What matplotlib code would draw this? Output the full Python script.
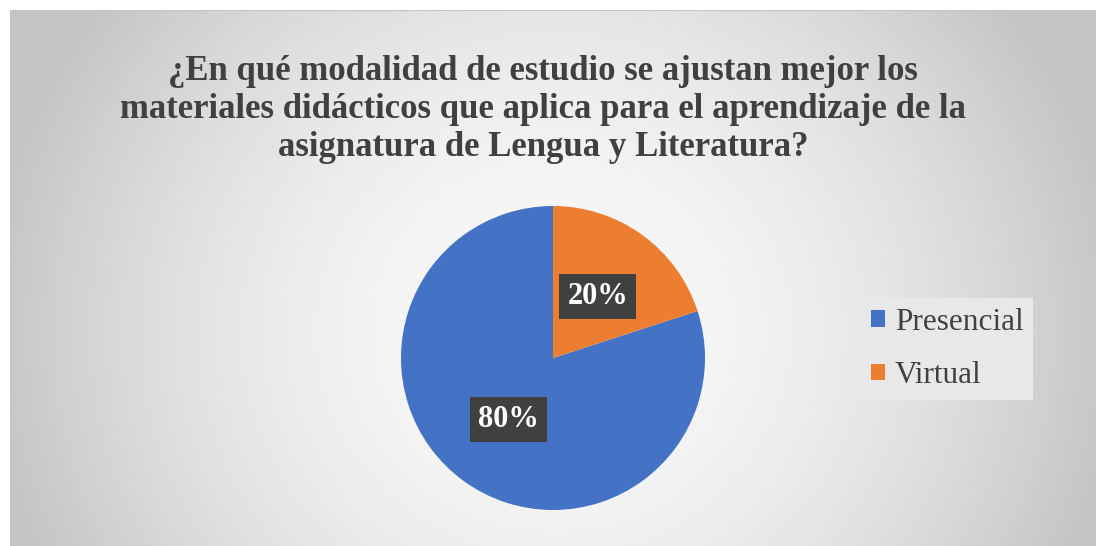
import numpy as np
import matplotlib
matplotlib.use("Agg")
import matplotlib.pyplot as plt
from matplotlib.lines import Line2D

categories = ["Presencial", "Virtual"]
values = [80, 20]
colors = ["#4472C4", "#ED7D31"]
title = ("¿En qué modalidad de estudio se ajustan mejor los\n"
         "materiales didácticos que aplica para el aprendizaje de la\n"
         "asignatura de Lengua y Literatura?")

W, H = 1096, 546
fig = plt.figure(figsize=(W / 100, H / 100), dpi=100)
fig.patch.set_facecolor("white")

# background radial gradient
bx0 = 10
bg = fig.add_axes([bx0 / W, 0, (W - bx0) / W, (H - 10) / H])
yy, xx = np.mgrid[0:H - 10, 0:W - bx0]
cx, cy = 543, 320
d = np.sqrt((xx - cx) ** 2 + ((yy - cy) * 1.05) ** 2)
g = 250 - 52 * (d / 560) ** 1.8
g = np.clip(g, 196, 250) / 255.0
img = np.dstack([g, g, g])
bg.imshow(img, aspect="auto", extent=[0, 1, 0, 1], origin="upper")
bg.set_xlim(0, 1)
bg.set_ylim(0, 1)
bg.axis("off")
bg.add_line(Line2D([0, 0, 1], [0, 1, 1], transform=bg.transAxes,
                   color="#c4c4c4", linewidth=1.5))

# title
fig.text(543 / W, 1 - 109 / H, title, ha="center", va="center",
         fontfamily="Liberation Serif", fontweight="bold", fontsize=25,
         color="#404040", linespacing=1.2)

# pie
cxp, cyp, r = 553, 188, 152
ax = fig.add_axes([(cxp - r) / W, (cyp - r) / H, 2 * r / W, 2 * r / H])
wedges, texts, autotexts = ax.pie(
    values, colors=colors, startangle=90, counterclock=True,
    autopct="%d%%", pctdistance=0.5,
    wedgeprops=dict(linewidth=0),
    textprops=dict(fontfamily="Liberation Serif", fontweight="bold",
                   fontsize=22, color="white"))
for t in autotexts:
    t.set_bbox(dict(boxstyle="square,pad=0.26", facecolor="#404040",
                    edgecolor="none"))
ax.set_xlim(-1, 1)
ax.set_ylim(-1, 1)
ax.set_aspect("equal")
ax.axis("off")

# legend
leg = fig.legend(wedges, categories, loc="center left",
                 bbox_to_anchor=(862 / W, 1 - 349 / H),
                 prop=dict(family="Liberation Serif", size=22.5),
                 frameon=True, facecolor="#e8e8e8", edgecolor="none",
                 framealpha=1, fancybox=False, handlelength=0.45,
                 handleheight=0.45, handletextpad=0.3, labelspacing=0.78,
                 borderpad=0.3, borderaxespad=0)
for t in leg.get_texts():
    t.set_color("#404040")

fig.savefig("out.png", dpi=100)
